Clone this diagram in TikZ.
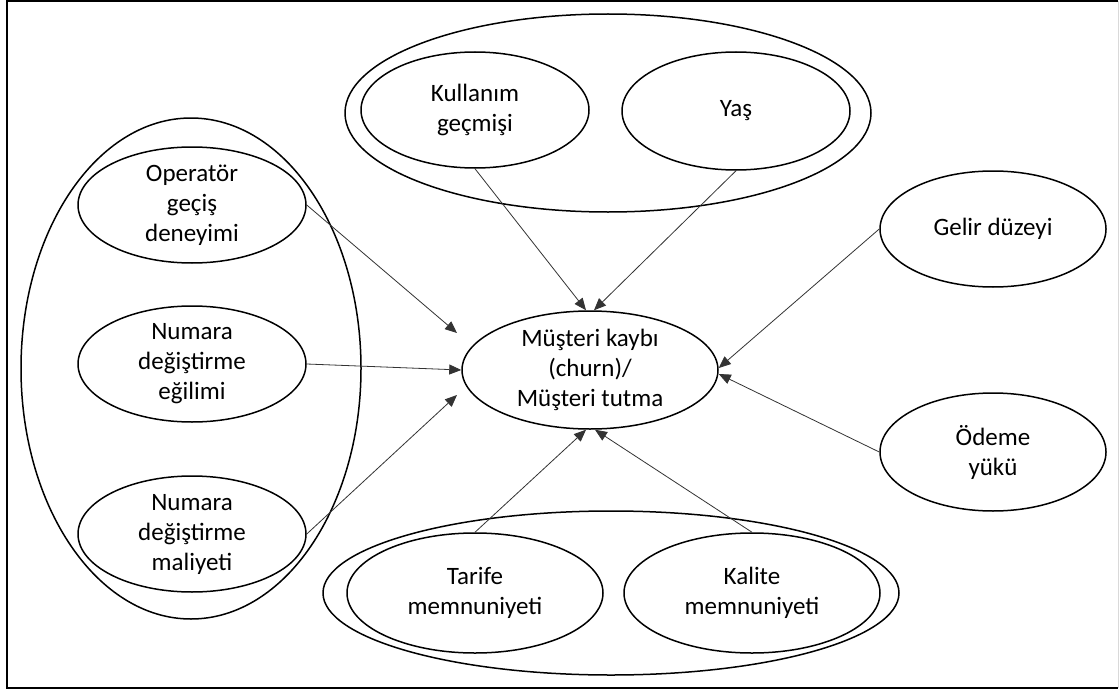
\documentclass[tikz,border=0pt]{standalone}
\usepackage{fontspec}
\setmainfont{Carlito}
\usetikzlibrary{shapes.geometric,arrows.meta}
\begin{document}
\begin{tikzpicture}[x=1pt,y=-1pt,
  every node/.style={font=\fontsize{25}{30}\selectfont},
  oval/.style={ellipse,draw,line width=1.5pt,inner sep=-45pt,align=center},
  grp/.style={ellipse,draw,line width=1.5pt,inner sep=0pt},
  arr/.style={line width=0.8pt,draw=black!80,-{Triangle[length=12pt,width=10pt]}}]
\useasboundingbox (0,0) rectangle (1119,693);
\fill[white] (0,0) rectangle (1119,693);
% frame
\draw[line width=2pt] (1118,1) -- (7,1) -- (7,688) -- (1118,688);
\draw[line width=0.8pt,black!15] (1118,1) -- (1118,688);
% group ellipses
\node[grp,minimum width=526pt,minimum height=198pt] (topg) at (608,113) {};
\node[grp,minimum width=340pt,minimum height=501pt] (leftg) at (191,368.5) {};
\node[grp,minimum width=576pt,minimum height=164pt] (botg) at (611,593) {};
% nodes
\node[oval,minimum width=228pt,minimum height=116pt] (kull) at (475,110) {Kullanım\\geçmişi};
\node[oval,minimum width=228pt,minimum height=118pt] (yas) at (736,111) {Yaş};
\node[oval,minimum width=228pt,minimum height=116pt] (oper) at (192,205) {Operatör\\geçiş\\deneyimi};
\node[oval,minimum width=228pt,minimum height=116pt] (egil) at (192,364) {Numara\\değiştirme\\eğilimi};
\node[oval,minimum width=228pt,minimum height=116pt] (mali) at (192,534) {Numara\\değiştirme\\maliyeti};
\node[oval,minimum width=256pt,minimum height=118pt] (churn) at (590,370) {Müşteri kaybı\\(churn)/\\Müşteri tutma};
\node[oval,minimum width=226pt,minimum height=116pt] (gelir) at (993,229) {Gelir düzeyi};
\node[oval,minimum width=226pt,minimum height=118pt] (odeme) at (993,452) {Ödeme\\yükü};
\node[oval,minimum width=256pt,minimum height=120pt] (tarife) at (475,593) {Tarife\\memnuniyeti};
\node[oval,minimum width=256pt,minimum height=120pt] (kalite) at (752,593) {Kalite\\memnuniyeti};
% free ends
\coordinate (e1) at (457,333);
\coordinate (e3) at (457,395);
% connectors
\draw[arr] (kull.south) -- ([xshift=-4pt]churn.north);
\draw[arr] (yas.south) -- ([xshift=4pt]churn.north);
\draw[arr] (oper.east) -- (e1);
\draw[arr] (egil.east) -- (churn.west);
\draw[arr] (mali.east) -- (e3);
\draw[arr] (gelir.west) -- ([yshift=2pt]churn.east);
\draw[arr] (odeme.west) -- ([yshift=-4pt]churn.east);
\draw[arr] (tarife.north) -- ([xshift=-4pt]churn.south);
\draw[arr] (kalite.north) -- ([xshift=5pt]churn.south);
\end{tikzpicture}
\end{document}
